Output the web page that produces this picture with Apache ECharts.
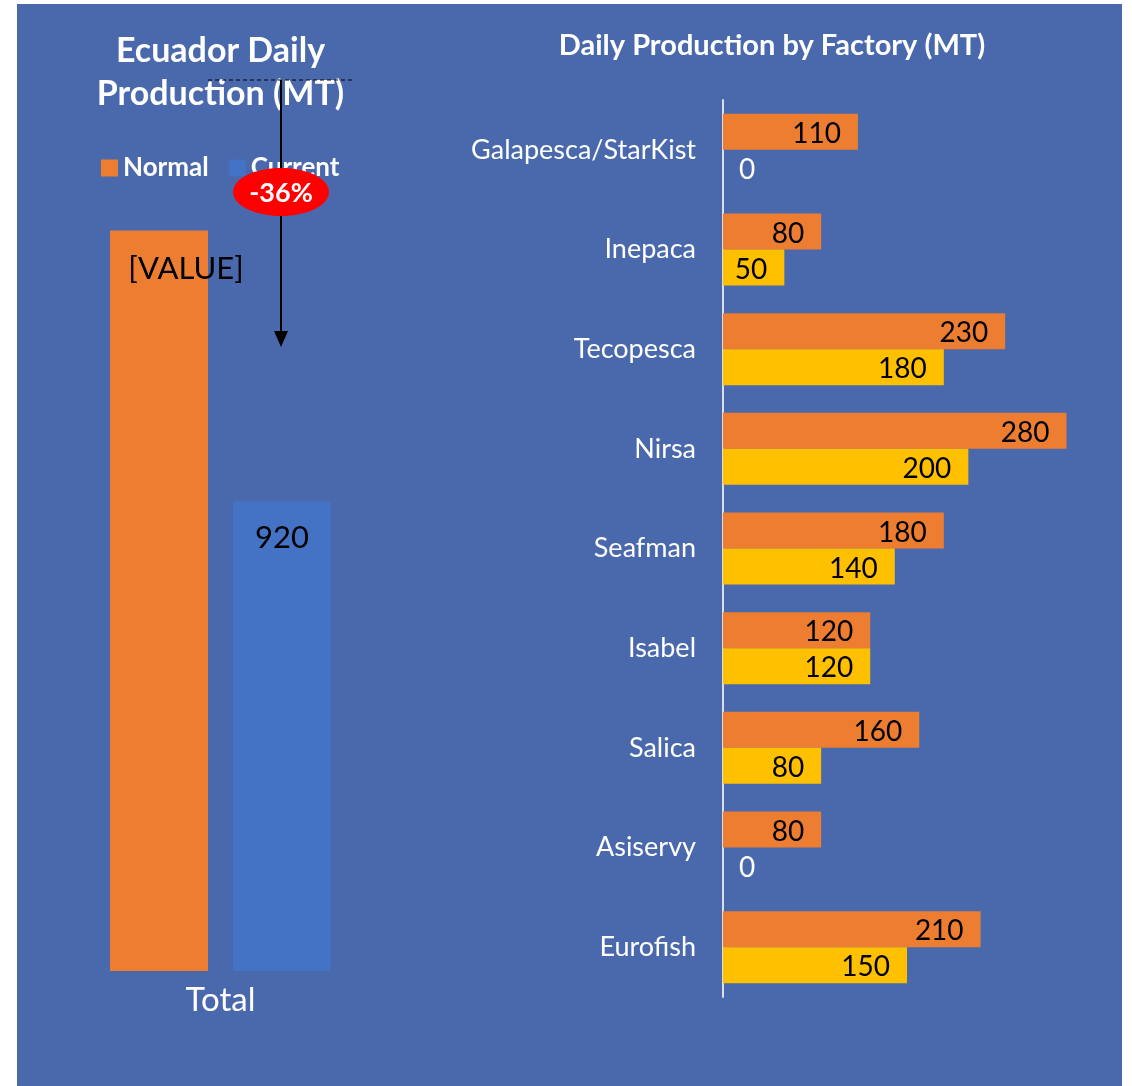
<!DOCTYPE html>
<html lang="en">
<head>
    <meta charset="UTF-8">
    <title>Ecuador Daily Production</title>
    <script src="https://cdn.jsdelivr.net/npm/echarts@6/dist/echarts.min.js"></script>
    <style>
        html, body {
            margin: 0;
            height: 100%;
            background: #ffffff;
        }
    </style>
</head>
<body>
<!--图表容器-->
<div id="main" style="position: absolute;left: 17px;top: 4px;width: 1105px;height: 1082px;"></div>
</body>
</html>
<script>

    // 汇总数据
    var totalCategories = ['Total'];
    var totalNormal = [1450];
    var totalCurrent = [920];
    var changeLabel = '-36%';

    // 各工厂数据
    var factories = ['Galapesca/StarKist', 'Inepaca', 'Tecopesca', 'Nirsa', 'Seafman', 'Isabel', 'Salica', 'Asiservy', 'Eurofish'];
    var factoryNormal = [110, 80, 230, 280, 180, 120, 160, 80, 210];
    var factoryCurrent = [0, 50, 180, 200, 140, 120, 80, 0, 150];

    var FONT = 'Lato, "Open Sans", sans-serif';

    // 0值标签放在柱子外面，白色
    function toBarData(values) {
        return values.map(function (v) {
            if (v === 0) {
                return {value: v, label: {position: 'right', color: '#ffffff', distance: 16}};
            }
            return v;
        });
    }

    var myChart = echarts.init(document.getElementById('main'));

    var option = {
        backgroundColor: '#4A69AC',
        animation: false,
        legend: {
            data: ['Normal', 'Current'],
            left: 79,
            top: 146,
            icon: 'rect',
            itemWidth: 17,
            itemHeight: 17,
            itemGap: 20,
            textStyle: {color: '#ffffff', fontSize: 26, fontWeight: 'bold', fontFamily: FONT}
        },
        grid: [
            {left: 43, width: 321, top: 150, bottom: 115},
            {left: 706, right: 31, top: 96, bottom: 89}
        ],
        xAxis: [
            {
                gridIndex: 0,
                type: 'category',
                data: totalCategories,
                axisLine: {show: false},
                axisTick: {show: false},
                axisLabel: {color: '#ffffff', fontSize: 33, fontFamily: FONT, margin: 13}
            },
            {
                gridIndex: 1,
                type: 'value',
                min: 0,
                max: 300,
                show: false,
                splitLine: {show: false}
            }
        ],
        yAxis: [
            {
                gridIndex: 0,
                type: 'value',
                min: 0,
                max: 1600,
                show: false,
                splitLine: {show: false}
            },
            {
                gridIndex: 1,
                type: 'category',
                data: factories,
                inverse: true,
                axisLine: {show: true, lineStyle: {color: '#D9DEEA', width: 2}},
                axisTick: {show: false},
                axisLabel: {color: '#ffffff', fontSize: 27, fontFamily: FONT, margin: 27}
            }
        ],
        series: [
            {
                name: 'Normal',
                type: 'bar',
                xAxisIndex: 0,
                yAxisIndex: 0,
                data: totalNormal,
                barWidth: 98,
                barGap: '25.5%',
                itemStyle: {color: '#ED7D31'},
                label: {
                    show: true,
                    position: 'insideTop',
                    distance: 23,
                    offset: [27, 0],
                    formatter: '[VALUE]',
                    color: '#000000',
                    fontSize: 31,
                    fontFamily: FONT
                }
            },
            {
                name: 'Current',
                type: 'bar',
                xAxisIndex: 0,
                yAxisIndex: 0,
                data: totalCurrent,
                barWidth: 98,
                itemStyle: {color: '#4472C4'},
                label: {
                    show: true,
                    position: 'insideTop',
                    distance: 21,
                    color: '#000000',
                    fontSize: 31,
                    fontFamily: FONT
                }
            },
            {
                name: 'Factory Normal',
                type: 'bar',
                xAxisIndex: 1,
                yAxisIndex: 1,
                data: toBarData(factoryNormal),
                barWidth: 36,
                barGap: '0%',
                itemStyle: {color: '#ED7D31'},
                label: {
                    show: true,
                    position: 'insideRight',
                    distance: 17,
                    offset: [0, 2],
                    color: '#000000',
                    fontSize: 28,
                    fontFamily: FONT
                }
            },
            {
                name: 'Factory Current',
                type: 'bar',
                xAxisIndex: 1,
                yAxisIndex: 1,
                data: toBarData(factoryCurrent),
                barWidth: 36,
                itemStyle: {color: '#FFC000'},
                label: {
                    show: true,
                    position: 'insideRight',
                    distance: 17,
                    offset: [0, 2],
                    color: '#000000',
                    fontSize: 28,
                    fontFamily: FONT
                }
            }
        ],
        graphic: [
            // 标题
            {
                type: 'text',
                x: 203.5,
                y: 69,
                style: {
                    text: 'Ecuador Daily\nProduction (MT)',
                    align: 'center',
                    verticalAlign: 'middle',
                    fill: '#ffffff',
                    fontSize: 34,
                    fontWeight: 'bold',
                    fontFamily: FONT,
                    lineHeight: 43
                }
            },
            {
                type: 'text',
                x: 755,
                y: 42,
                style: {
                    text: 'Daily Production by Factory (MT)',
                    align: 'center',
                    verticalAlign: 'middle',
                    fill: '#ffffff',
                    fontSize: 29,
                    fontWeight: 'bold',
                    fontFamily: FONT
                }
            },
            // 变化箭头
            {
                type: 'line',
                z: 100,
                shape: {x1: 191, y1: 76, x2: 338, y2: 76},
                style: {stroke: '#000000', lineWidth: 1, lineDash: [4, 3]}
            },
            {
                type: 'line',
                z: 100,
                shape: {x1: 264, y1: 76, x2: 264, y2: 330},
                style: {stroke: '#000000', lineWidth: 2}
            },
            {
                type: 'polygon',
                z: 100,
                shape: {points: [[257, 327], [271, 327], [264, 343]]},
                style: {fill: '#000000'}
            },
            {
                type: 'ellipse',
                z: 101,
                shape: {cx: 264, cy: 188, rx: 48, ry: 24},
                style: {fill: '#FF0000'}
            },
            {
                type: 'text',
                z: 102,
                x: 264,
                y: 189,
                style: {
                    text: changeLabel,
                    align: 'center',
                    verticalAlign: 'middle',
                    fill: '#ffffff',
                    fontSize: 27,
                    fontWeight: 'bold',
                    fontFamily: FONT
                }
            }
        ]
    };

    myChart.setOption(option);

</script>
